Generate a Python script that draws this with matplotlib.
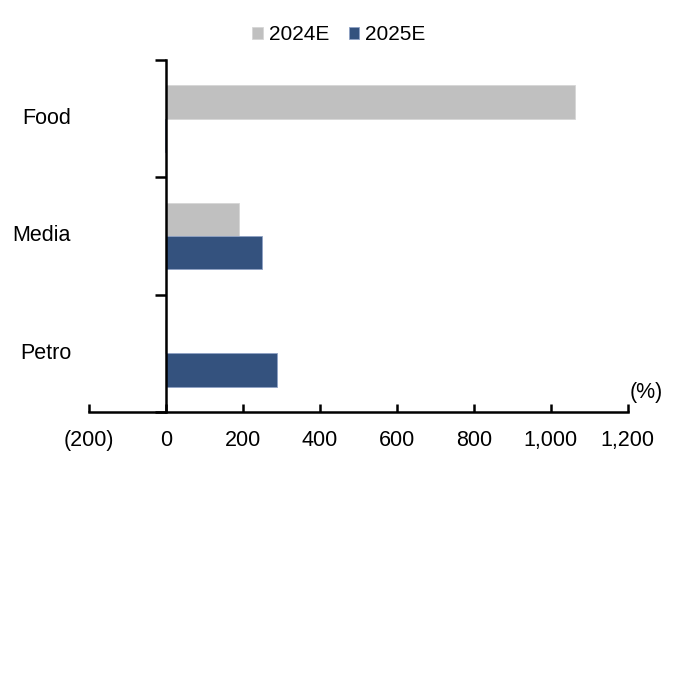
import numpy as np
import matplotlib
matplotlib.use("Agg")
import matplotlib.pyplot as plt

plt.rcParams['font.family'] = ['Liberation Sans', 'DejaVu Sans']

# Data (%)
categories = ['Food', 'Media', 'Petro']
values_2024e = [1062, 190, -3]
values_2025e = [-2, 249, 288]
tick_values = [-200, 0, 200, 400, 600, 800, 1000, 1200]
tick_labels = ['(200)', '0', '200', '400', '600', '800', '1,000', '1,200']

gray = '#C0C0C0'
navy = '#34527E'
fs = 15.5

fig = plt.figure(figsize=(6.78, 6.91), dpi=100)
ax = fig.add_axes([0.131, 0.4038, 0.795, 0.5094])

y = np.arange(len(categories))
h = 0.283
ax.barh(y - h / 2, values_2024e, height=h, color=gray, edgecolor='#D6D6D6',
        linewidth=0.6, label='2024E')
ax.barh(y + h / 2, values_2025e, height=h, color=navy, edgecolor='#8FA2C4',
        linewidth=0.6, label='2025E')

ax.set_xlim(-200, 1200)
ax.set_ylim(len(categories) - 0.5, -0.5)

# y spine sits at x = 0
ax.spines['left'].set_position(('data', 0))
ax.spines['top'].set_visible(False)
ax.spines['right'].set_visible(False)
ax.spines['left'].set_linewidth(1.8)
ax.spines['bottom'].set_linewidth(1.8)

ax.set_xticks(tick_values)
ax.set_xticklabels(tick_labels, fontsize=fs)
ax.tick_params(axis='x', direction='in', length=6, width=1.8, pad=13)

# category tick marks at boundaries, labels at centers
ax.set_yticks(np.arange(len(categories) + 1) - 0.5)
ax.set_yticklabels([])
ax.tick_params(axis='y', direction='out', length=8, width=1.8)
for yi, cat in zip(y, categories):
    ax.text(-246, yi, cat, ha='right', va='center', fontsize=fs)

ax.text(1291, 0.025, '(%)', transform=ax.get_xaxis_transform(),
        ha='right', va='bottom', fontsize=fs)

leg = fig.legend(loc='upper center', bbox_to_anchor=(0.5, 0.991), ncol=2,
                 frameon=False, fontsize=15, handlelength=0.5, handleheight=0.5,
                 handletextpad=0.3, columnspacing=0.92)

fig.savefig('out.png', dpi=100)
